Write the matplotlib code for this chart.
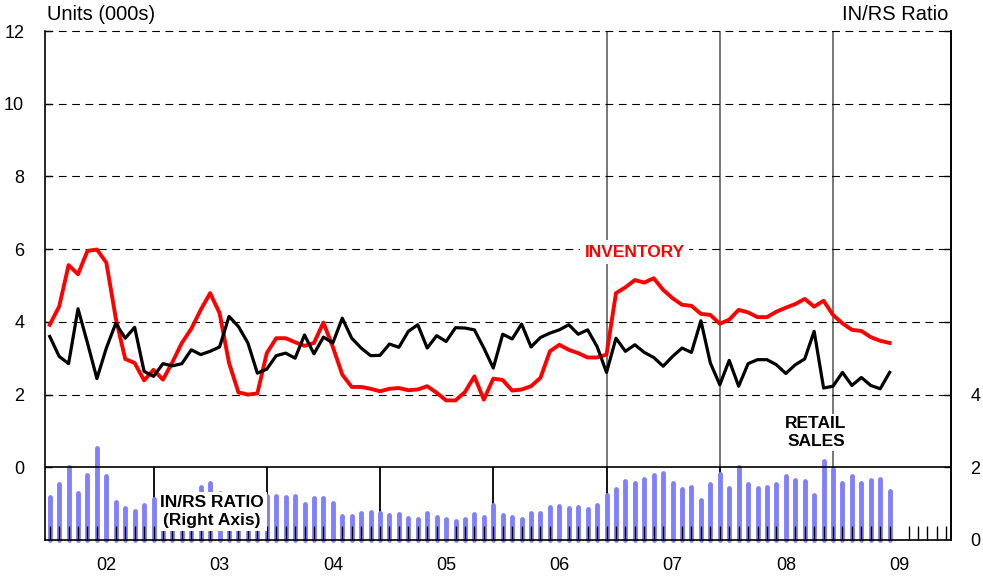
import numpy as np
import matplotlib.pyplot as plt

plt.rcParams['font.family'] = ['Liberation Sans', 'DejaVu Sans']

# monthly data, left axis (units 000s)
inventory = [3.92, 4.42, 5.56, 5.31, 5.95, 5.99, 5.63, 4.10, 2.98, 2.87,
             2.39, 2.68, 2.41, 2.89, 3.42, 3.81, 4.33, 4.79, 4.24, 2.87,
             2.06, 2.00, 2.03, 3.14, 3.55, 3.55, 3.44, 3.34, 3.42, 3.98,
             3.31, 2.55, 2.21, 2.21, 2.16, 2.09, 2.16, 2.18, 2.12, 2.14,
             2.23, 2.05, 1.84, 1.84, 2.07, 2.50, 1.86, 2.44, 2.40, 2.11,
             2.14, 2.23, 2.46, 3.19, 3.37, 3.23, 3.14, 3.02, 3.02, 3.10,
             4.79, 4.95, 5.15, 5.08, 5.20, 4.88, 4.65, 4.47, 4.44, 4.22,
             4.19, 3.95, 4.06, 4.33, 4.26, 4.13, 4.13, 4.28, 4.39, 4.49,
             4.63, 4.42, 4.58, 4.19, 3.96, 3.78, 3.75, 3.58, 3.48, 3.42]

retail_sales = [3.60, 3.05, 2.85, 4.36, 3.42, 2.44, 3.28, 3.96, 3.55, 3.85,
                2.64, 2.50, 2.85, 2.79, 2.85, 3.23, 3.10, 3.19, 3.31, 4.15,
                3.87, 3.42, 2.59, 2.70, 3.07, 3.14, 3.00, 3.64, 3.12, 3.58,
                3.42, 4.10, 3.55, 3.28, 3.07, 3.08, 3.39, 3.30, 3.74, 3.92,
                3.28, 3.62, 3.46, 3.84, 3.83, 3.78, 3.28, 2.73, 3.66, 3.53,
                3.94, 3.31, 3.57, 3.69, 3.78, 3.92, 3.66, 3.78, 3.32, 2.61,
                3.55, 3.19, 3.37, 3.16, 3.02, 2.78, 3.05, 3.28, 3.16, 4.03,
                2.87, 2.27, 2.94, 2.23, 2.85, 2.96, 2.96, 2.82, 2.58, 2.82,
                2.98, 3.74, 2.18, 2.23, 2.61, 2.25, 2.47, 2.25, 2.16, 2.61]

# right axis (IN/RS ratio)
inrs_ratio = [1.17, 1.55, 2.01, 1.28, 1.79, 2.54, 1.75, 1.05, 0.89, 0.79,
              0.96, 1.14, 1.05, 1.00, 1.10, 1.20, 1.46, 1.57, 1.30, 1.15,
              1.10, 1.05, 1.10, 1.21, 1.21, 1.17, 1.21, 0.98, 1.15, 1.16,
              1.02, 0.67, 0.67, 0.74, 0.76, 0.73, 0.69, 0.72, 0.61, 0.59,
              0.73, 0.62, 0.58, 0.53, 0.59, 0.71, 0.62, 0.96, 0.70, 0.64,
              0.59, 0.74, 0.74, 0.91, 0.94, 0.87, 0.91, 0.85, 0.96, 1.25,
              1.39, 1.62, 1.58, 1.67, 1.79, 1.83, 1.57, 1.40, 1.45, 1.10,
              1.53, 1.82, 1.43, 2.01, 1.54, 1.44, 1.46, 1.55, 1.76, 1.65,
              1.61, 1.24, 2.17, 1.94, 1.57, 1.76, 1.57, 1.65, 1.68, 1.35]

year_labels = ['02', '03', '04', '05', '06', '07', '08', '09']

months = np.arange(len(inventory))
all_months = np.arange(96)
label_pos = np.arange(len(year_labels)) * 12 + 6
year_ticks = np.arange(11, 84, 12)

fig = plt.figure(figsize=(9.83, 5.77), dpi=100)
ax = fig.add_axes([45 / 983, 37 / 577, 906 / 983, 509 / 577])
ax2 = ax.twinx()
ax.set_zorder(ax2.get_zorder() + 1)
ax.patch.set_visible(False)

ax.set_xlim(-0.5, 95.5)
ax.set_ylim(-2, 12)
ax2.set_ylim(0, 14)

# year separators (behind the bars)
ax2.vlines(year_ticks, 0, 2, colors='black', lw=1.3, zorder=1)
ax2.vlines(year_ticks[-3:], 2, 14, colors='#606060', lw=1.2, zorder=1)

bars = ax2.vlines(months, 0, inrs_ratio, colors='#8080ff', lw=3.5, zorder=2, clip_on=False)
bars.set_capstyle('round')

for v in range(2, 13, 2):
    ax.axhline(v, color='black', lw=0.8, dashes=(7, 5), clip_on=False, zorder=1)
ax.axhline(0, color='black', lw=1.2, zorder=1)

ax.plot(months, inventory, color='#ff0000', lw=2.8, zorder=3)
ax.plot(months, retail_sales, color='black', lw=2.3, zorder=3)

ax.text(62, 5.92, 'INVENTORY', color='#ff0000', fontweight='bold', fontsize=12.5,
        ha='center', va='center', zorder=4,
        bbox=dict(facecolor='white', edgecolor='none', boxstyle='square,pad=0.25'))
ax.text(81.2, 0.96, 'RETAIL\nSALES', color='black', fontweight='bold', fontsize=12.5,
        ha='center', va='center', multialignment='center', zorder=4,
        bbox=dict(facecolor='white', edgecolor='none', boxstyle='square,pad=0.15'))
ax.text(17.2, -1.22, 'IN/RS RATIO\n(Right Axis)', color='black', fontweight='bold', fontsize=12.5,
        ha='center', va='center', multialignment='center', zorder=4,
        bbox=dict(facecolor='white', edgecolor='none', boxstyle='square,pad=0.2'))

ax.set_yticks(range(0, 13, 2))
ax.tick_params(axis='y', direction='in', length=5, width=1, left=True, right=True,
               labelsize=13, pad=15)
ax.set_xticks(label_pos, year_labels)
ax.set_xticks(all_months, minor=True)
ax.tick_params(axis='x', which='major', length=0, labelsize=13, pad=12)
ax.tick_params(axis='x', which='minor', direction='in', length=10, width=1, color='black')

ax2.set_yticks([0, 2, 4])
ax2.tick_params(axis='y', length=0, labelsize=13, pad=14)

ax.spines['top'].set_visible(False)
for s in ['top', 'left', 'bottom']:
    ax2.spines[s].set_visible(False)
for s in ['left', 'right', 'bottom']:
    ax.spines[s].set_linewidth(1.2)
ax2.spines['right'].set_linewidth(1.2)

fig.text(47 / 983, 1 - 14 / 577, 'Units (000s)', fontsize=14.5, va='center', ha='left')
fig.text(948 / 983, 1 - 14 / 577, 'IN/RS Ratio', fontsize=14.5, va='center', ha='right')

fig.savefig('out.png', dpi=100)
